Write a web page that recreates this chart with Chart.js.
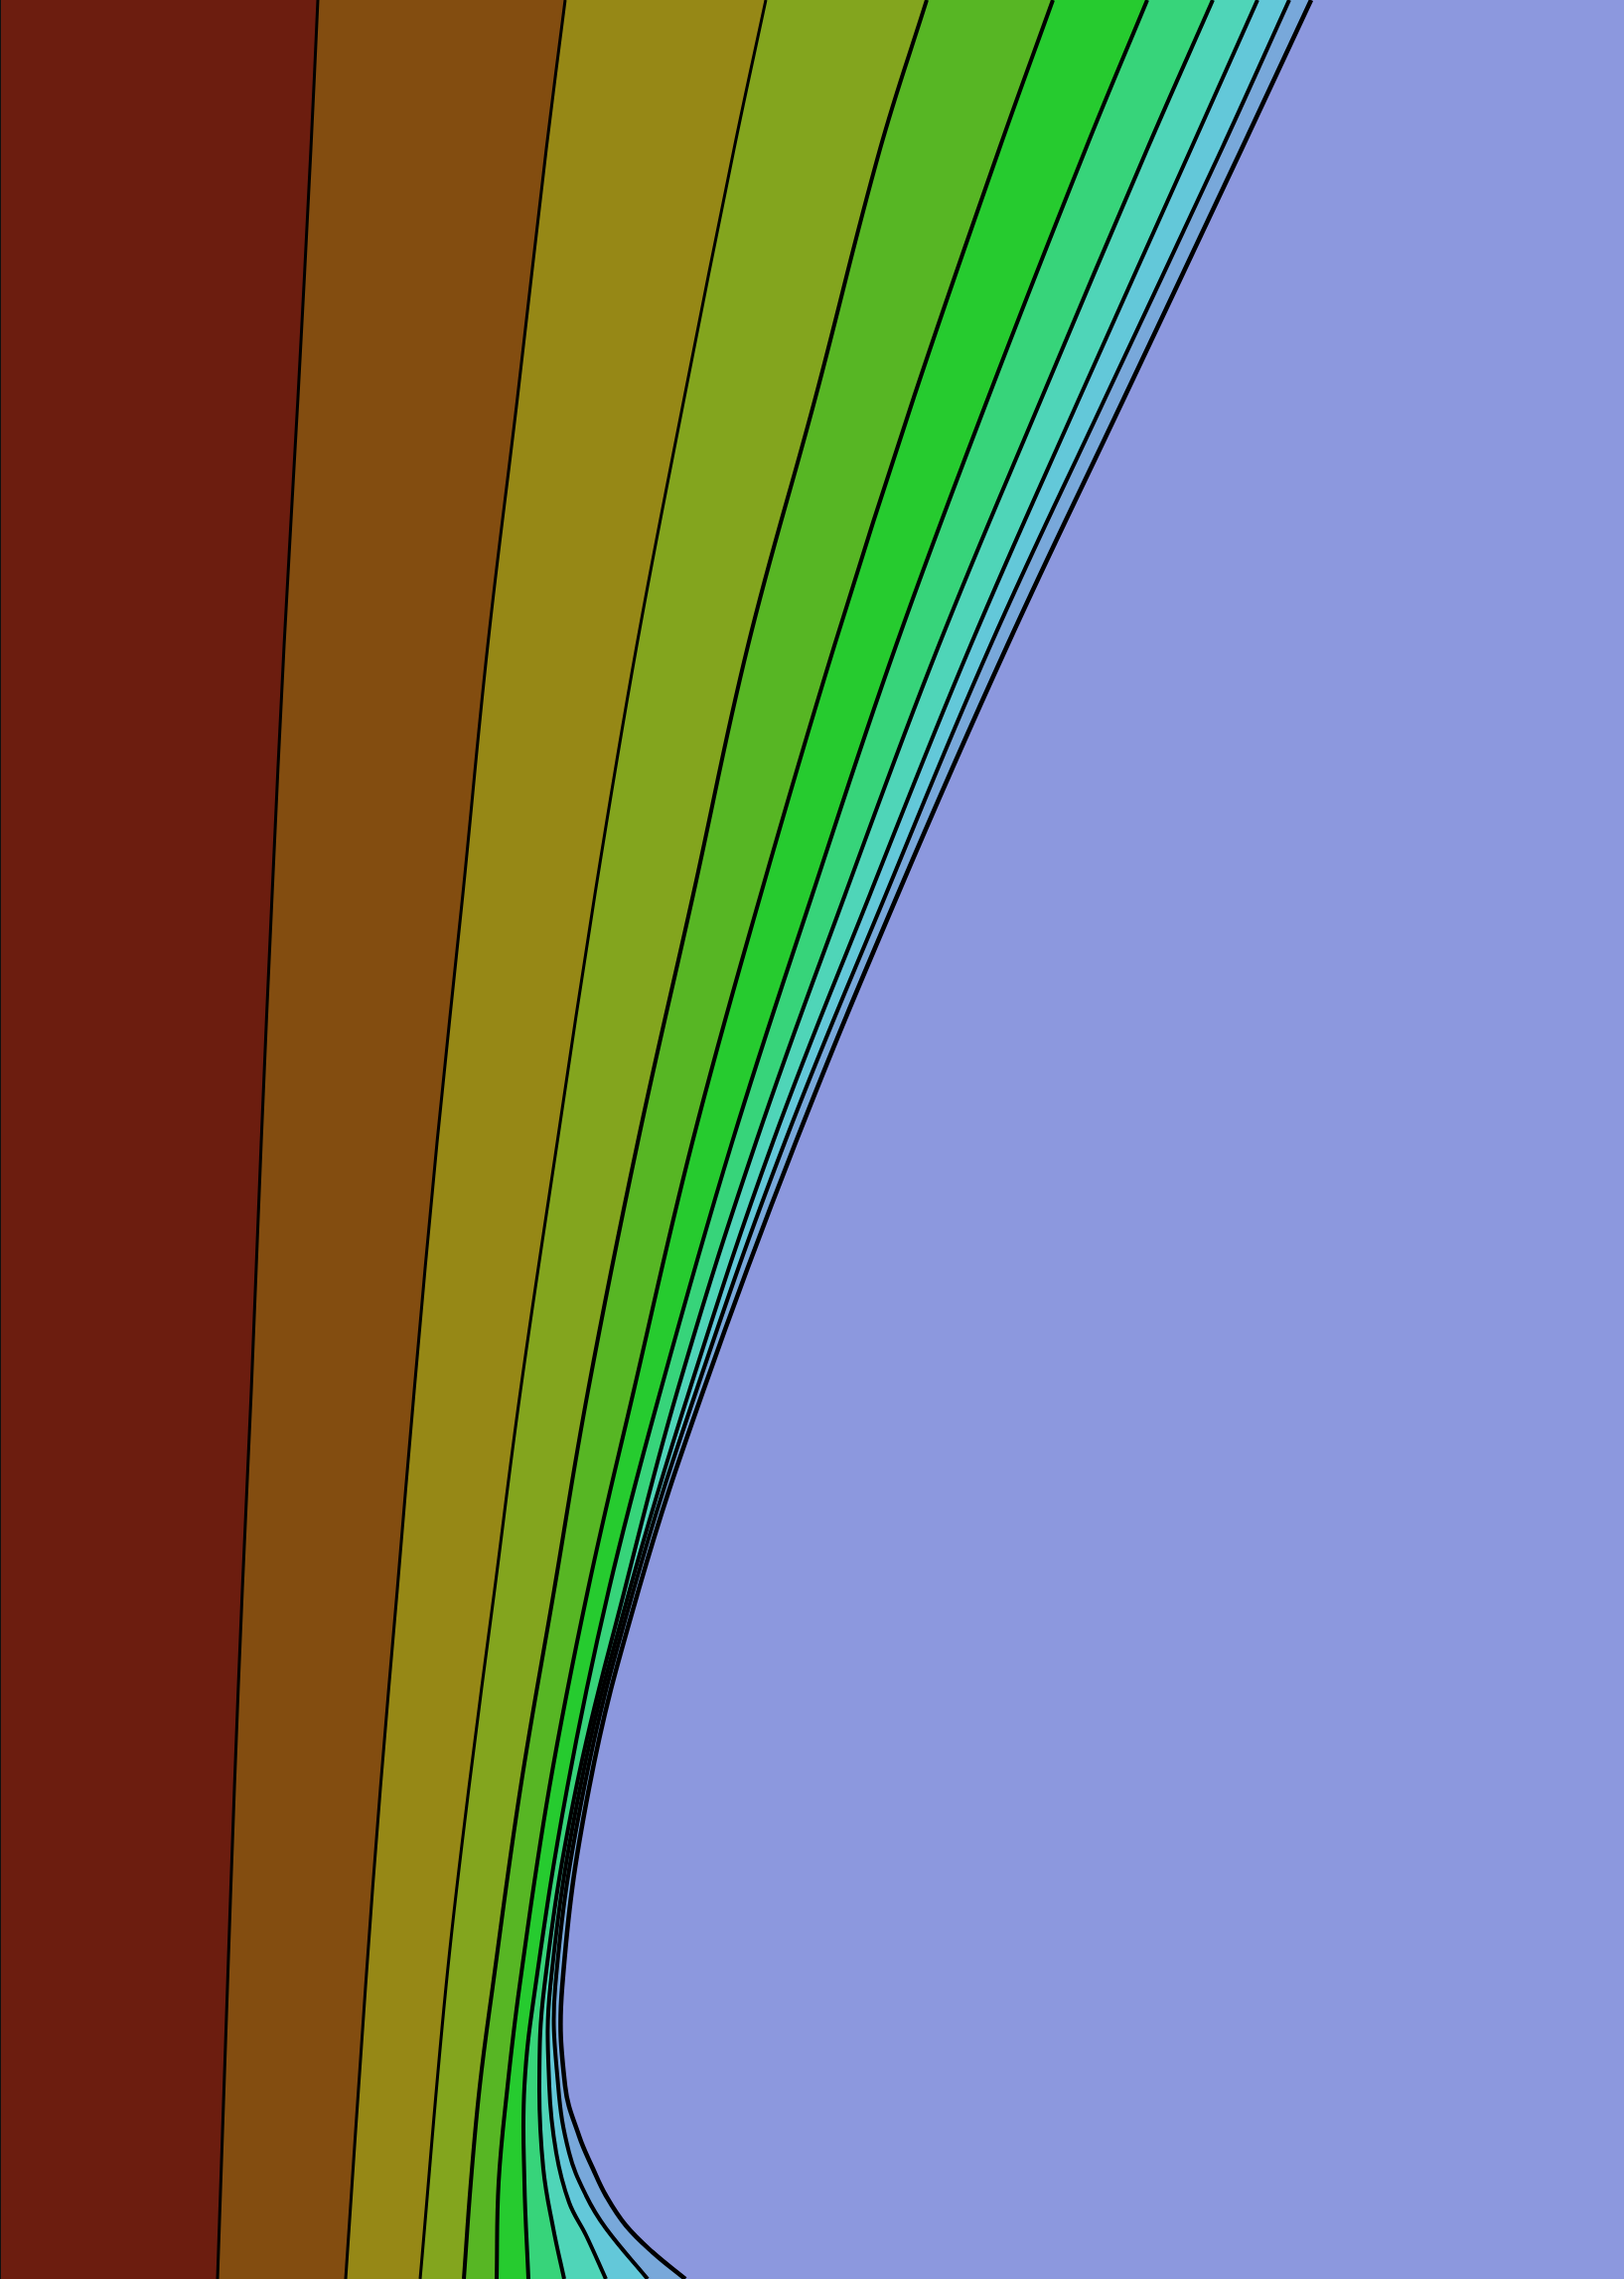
<!DOCTYPE html>
<html>
<head>
<meta charset="utf-8">
<script src="https://cdn.jsdelivr.net/npm/chart.js@4/dist/chart.umd.min.js"></script>
<style>
  html, body { margin: 0; padding: 0; background: #8C98DE; overflow: hidden; }
  #wrap { width: 1635px; height: 2294px; }
</style>
</head>
<body>
<div id="wrap"><canvas id="contours" width="1635" height="2294"></canvas></div>
<script>
// boundary curves: x position at each y level
const levelsY = [0, 150, 400, 650, 900, 1150, 1400, 1600, 1800, 2000, 2294];
const c1X = [320, 313, 300, 286, 274, 263, 253, 244, 236, 229, 219];
const c2X = [569, 550, 521, 491, 466, 440, 417, 400, 383, 368, 348];
const c3X = [771, 739, 689, 641, 599, 561, 524, 498, 472, 449, 423];

const midY = [0, 150, 400, 650, 900, 1150, 1400, 1600, 1800, 2000, 2100, 2197, 2294];
const c4X = [933, 886, 821, 753, 698, 642, 592, 558, 524, 496, 483, 474, 467];
const c5X = [1060, 1006, 920, 840, 766, 697, 638, 592, 553, 523, 511, 502, 500];
const c6X = [1155, 1093, 995, 902, 818, 737, 665, 613, 571, 539, 528, 528, 532];

const c7Y = [0, 150, 400, 650, 900, 1150, 1400, 1600, 1800, 2000, 2100, 2183, 2243, 2294];
const c7X = [1221, 1155, 1049, 945, 851, 761, 682, 629, 580, 548, 543, 547, 557, 568];

const c8Y = [0, 150, 400, 650, 900, 1150, 1400, 1600, 1800, 2000, 2100, 2167, 2217, 2250, 2294];
const c8X = [1266, 1199, 1087, 977, 876, 778, 694, 634, 584, 554, 553, 560, 573, 590, 610];

const c9Y = [0, 150, 400, 650, 900, 1150, 1400, 1600, 1800, 2000, 2100, 2167, 2210, 2243, 2294];
const c9X = [1298, 1230, 1113, 997, 892, 790, 701, 638, 588, 559, 562, 573, 590, 610, 652];

const c10Y = [0, 150, 400, 650, 900, 1150, 1400, 1600, 1800, 2000, 2100, 2150, 2183, 2210, 2240, 2267, 2294];
const c10X = [1320, 1250, 1132, 1014, 904, 801, 708, 643, 593, 566, 569, 583, 597, 610, 630, 657, 690];

// band colours, left to right (the last band is the page background)
const bandColors = ['#6C1D0F', '#834D10', '#968816', '#83A51E', '#57B624',
                    '#26CB2F', '#37D47A', '#4FD5B8', '#63C8D9', '#78A8DA'];
const lineWidths = [3, 3, 3, 4, 4, 4, 4, 4, 4, 4.5];

const curves = [
  [levelsY, c1X], [levelsY, c2X], [levelsY, c3X],
  [midY, c4X], [midY, c5X], [midY, c6X],
  [c7Y, c7X], [c8Y, c8X], [c9Y, c9X], [c10Y, c10X]
];

function toPoints(ys, xs) {
  return ys.map((y, i) => ({ x: xs[i], y: y }));
}

const datasets = curves.map((c, i) => ({
  data: toPoints(c[0], c[1]),
  borderColor: '#000',
  borderWidth: lineWidths[i],
  backgroundColor: bandColors[i],
  // first band runs from the left edge (x = 0)
  fill: i === 0 ? { value: 0 } : '-1',
  tension: 0.4,
  pointRadius: 0
}));

// thin frame line on the left edge
datasets.push({
  data: toPoints([0, 2294], [0, 0]),
  borderColor: '#111',
  borderWidth: 2,
  fill: false,
  pointRadius: 0
});

new Chart(document.getElementById('contours'), {
  type: 'line',
  data: { datasets: datasets },
  options: {
    indexAxis: 'y',
    responsive: false,
    animation: false,
    devicePixelRatio: 1,
    layout: { padding: 0 },
    scales: {
      x: { type: 'linear', min: 0, max: 1635, display: false },
      y: { type: 'linear', min: 0, max: 2294, reverse: true, display: false }
    },
    plugins: {
      legend: { display: false },
      tooltip: { enabled: false },
      filler: { drawTime: 'beforeDatasetsDraw' }
    }
  }
});
</script>
</body>
</html>
